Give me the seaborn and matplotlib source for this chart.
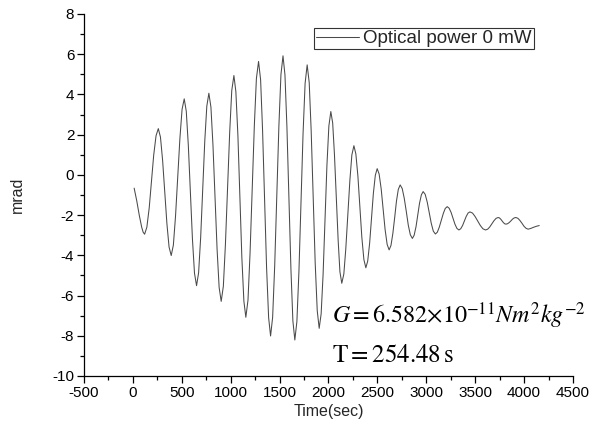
import matplotlib
matplotlib.use("Agg")
import matplotlib.pyplot as plt
import seaborn as sns
import pandas as pd
from matplotlib.ticker import MultipleLocator

# ---- data ----
time_sec = [
    13, 40, 65, 90, 105, 120,
    143, 167, 190, 213, 237, 260,
    282, 304, 326, 348, 370, 392,
    414, 436, 459, 481, 503, 525,
    546, 567, 588, 609, 630, 651,
    672, 693, 714, 735, 756, 777,
    798, 819, 840, 861, 882, 903,
    925, 946, 968, 990, 1011, 1033,
    1053, 1074, 1094, 1114, 1135, 1155,
    1177, 1198, 1220, 1242, 1263, 1285,
    1306, 1326, 1347, 1367, 1388, 1408,
    1429, 1450, 1472, 1493, 1514, 1535,
    1555, 1575, 1596, 1616, 1636, 1656,
    1677, 1698, 1719, 1740, 1761, 1782,
    1803, 1823, 1844, 1864, 1885, 1905,
    1925, 1945, 1965, 1984, 2004, 2024,
    2043, 2061, 2080, 2099, 2117, 2136,
    2157, 2177, 2198, 2219, 2239, 2260,
    2280, 2301, 2321, 2341, 2362, 2382,
    2401, 2421, 2440, 2459, 2479, 2498,
    2518, 2539, 2559, 2579, 2600, 2620,
    2639, 2658, 2677, 2695, 2714, 2733,
    2754, 2775, 2796, 2816, 2837, 2858,
    2876, 2895, 2913, 2931, 2950, 2968,
    2989, 3010, 3031, 3051, 3072, 3093,
    3113, 3133, 3154, 3174, 3194, 3214,
    3234, 3254, 3274, 3293, 3313, 3333,
    3352, 3371, 3390, 3408, 3427, 3446,
    3473, 3499, 3526, 3553, 3579, 3606,
    3628, 3649, 3671, 3692, 3714, 3735,
    3748, 3761, 3775, 3788, 3801, 3814,
    3831, 3848, 3865, 3882, 3899, 3916,
    3937, 3958, 3979, 4000, 4021, 4042,
    4070, 4100, 4130, 4155,
]
angle_mrad = [
    -0.66, -1.30, -2.00, -2.60, -2.85, -2.95,
    -2.60, -1.64, -0.33, 0.99, 1.95, 2.30,
    1.88, 0.72, -0.86, -2.43, -3.59, -4.01,
    -3.49, -2.06, -0.12, 1.83, 3.26, 3.78,
    3.16, 1.46, -0.87, -3.19, -4.89, -5.51,
    -4.87, -3.12, -0.73, 1.67, 3.42, 4.06,
    3.37, 1.47, -1.12, -3.70, -5.60, -6.29,
    -5.54, -3.48, -0.68, 2.13, 4.19, 4.94,
    4.14, 1.94, -1.07, -4.08, -6.28, -7.08,
    -6.23, -3.90, -0.72, 2.46, 4.79, 5.64,
    4.73, 2.23, -1.19, -4.60, -7.10, -8.01,
    -7.08, -4.53, -1.05, 2.44, 4.99, 5.92,
    4.97, 2.39, -1.15, -4.68, -7.26, -8.21,
    -7.29, -4.79, -1.37, 2.05, 4.55, 5.47,
    4.59, 2.20, -1.08, -4.36, -6.75, -7.63,
    -6.91, -4.94, -2.24, 0.46, 2.43, 3.15,
    2.58, 1.02, -1.12, -3.26, -4.82, -5.39,
    -4.93, -3.68, -1.97, -0.26, 0.99, 1.45,
    1.04, -0.07, -1.59, -3.10, -4.21, -4.62,
    -4.29, -3.39, -2.16, -0.92, -0.02, 0.31,
    0.04, -0.70, -1.71, -2.72, -3.46, -3.73,
    -3.51, -2.92, -2.12, -1.31, -0.72, -0.50,
    -0.68, -1.17, -1.83, -2.50, -2.98, -3.16,
    -3.00, -2.58, -2.00, -1.41, -0.99, -0.83,
    -0.97, -1.36, -1.89, -2.41, -2.80, -2.94,
    -2.85, -2.60, -2.26, -1.92, -1.67, -1.58,
    -1.66, -1.87, -2.16, -2.45, -2.66, -2.74,
    -2.68, -2.52, -2.29, -2.07, -1.90, -1.84,
    -1.90, -2.07, -2.29, -2.52, -2.68, -2.74,
    -2.70, -2.59, -2.43, -2.28, -2.16, -2.12,
    -2.14, -2.20, -2.29, -2.37, -2.43, -2.45,
    -2.43, -2.37, -2.29, -2.20, -2.14, -2.12,
    -2.16, -2.27, -2.41, -2.56, -2.66, -2.70,
    -2.66, -2.60, -2.55, -2.52,
]
series_label = "Optical power 0 mW"
x_label = "Time(sec)"
y_label = "mrad"
text_G = r"$G=6.582{\times}10^{-11}Nm^{2}kg^{-2}$"
text_T = r"$\mathrm{T}=254.48\,\mathrm{s}$"

df = pd.DataFrame({"t": time_sec, "v": angle_mrad})

sns.set_style("ticks")
plt.rcParams["font.family"] = ["Liberation Sans", "DejaVu Sans"]
plt.rcParams["mathtext.fontset"] = "stix"
plt.rcParams["axes.unicode_minus"] = False

fig = plt.figure(figsize=(5.91, 4.40), dpi=100)
ax = fig.add_axes([0.1421, 0.1455, 0.8274, 0.8227])

sns.lineplot(data=df, x="t", y="v", ax=ax, sort=False, estimator=None,
             color="#4a4a4a", linewidth=0.75, label=series_label)

ax.set_xlim(-500, 4500)
ax.set_ylim(-10, 8)
ax.xaxis.set_major_locator(MultipleLocator(500))
ax.xaxis.set_minor_locator(MultipleLocator(250))
ax.yaxis.set_major_locator(MultipleLocator(2))
ax.yaxis.set_minor_locator(MultipleLocator(1))
ax.tick_params(which="major", direction="out", length=5, width=0.9,
               labelsize=11, color="black", labelcolor="black", pad=2)
ax.tick_params(which="minor", direction="out", length=3, width=0.9, color="black")
sns.despine(ax=ax)
for s in ("left", "bottom"):
    ax.spines[s].set_color("black")
    ax.spines[s].set_linewidth(0.9)

ax.set_xlabel(x_label, fontsize=11.5, labelpad=3)
ax.set_ylabel(y_label, fontsize=11.5, labelpad=20)

leg = ax.legend(loc="upper right", bbox_to_anchor=(0.92, 0.961), borderaxespad=0,
                fontsize=13.5, frameon=True, fancybox=False, handlelength=2.3,
                handletextpad=0.25, borderpad=0.1, edgecolor="black")
leg.get_frame().set_linewidth(0.8)

ax.text(0.507, 0.146, text_G, transform=ax.transAxes, fontsize=17.3,
        va="baseline", ha="left", color="black")
ax.text(0.507, 0.039, text_T, transform=ax.transAxes, fontsize=18,
        va="baseline", ha="left", color="black")

fig.savefig("out.png", dpi=100, facecolor="white")
